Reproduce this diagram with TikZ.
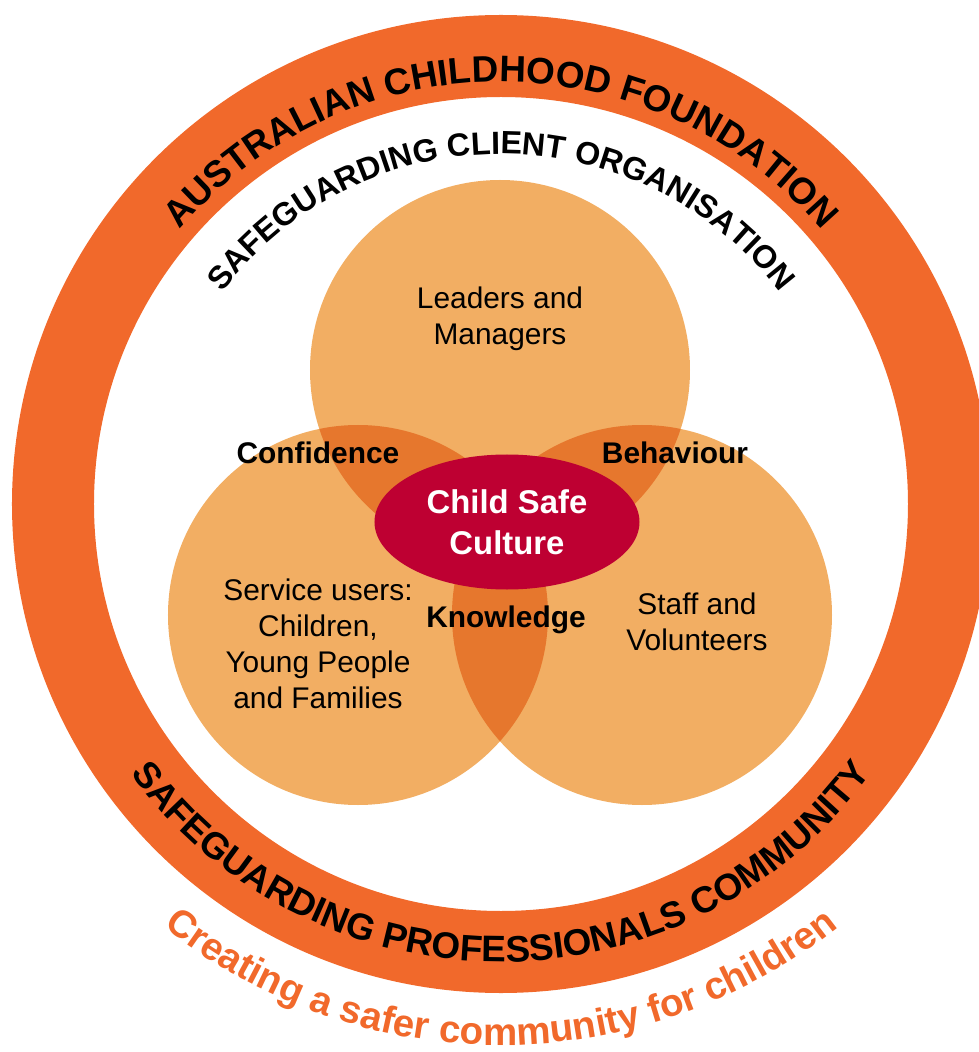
\documentclass[tikz,border=0pt]{standalone}
\usepackage{fontspec}
\setsansfont{Liberation Sans}
\usetikzlibrary{shapes.geometric, decorations.text}
\definecolor{cring}{HTML}{F1692B}
\definecolor{cpeach}{HTML}{F2AE63}
\definecolor{cdeep}{HTML}{E6772D}
\definecolor{ccrimson}{HTML}{BE0032}
\newcommand\ringfont{\sffamily\bfseries\fontsize{21}{25}\selectfont}
\newcommand\orgfont{\sffamily\bfseries\fontsize{18.3}{22}\selectfont}
\newcommand\mottofont{\sffamily\bfseries\fontsize{21.9}{26}\selectfont}
\tikzset{
  every picture/.style={font=\sffamily\fontsize{17}{20.4}\selectfont},
  group/.style={align=center, inner sep=0pt},
  tag/.style={font=\sffamily\bfseries\fontsize{17}{20.4}\selectfont, inner sep=0pt},
  core/.style={ellipse, fill=ccrimson, text=white, align=center, minimum width=53mm, minimum height=27mm,
    font=\sffamily\bfseries\fontsize{18.7}{23.6}\selectfont},
  arctext/.style={decorate, decoration={text along path, text align=center, text={#1}}},
}

\begin{document}
\begin{tikzpicture}[x=0.2mm, y=0.2mm]
  \useasboundingbox (-501,504) rectangle (478,-548);
  % outer ring
  \fill[cring, even odd rule] (0,0) circle[radius=489] (0,0) circle[radius=407];
  % three circles and their overlaps
  \fill[cpeach] (-1,134) circle[radius=190];
  \fill[cpeach] (-143,-111) circle[radius=190];
  \fill[cpeach] (141,-111) circle[radius=190];
  \begin{scope}
    \clip (-1,134) circle[radius=190];
    \fill[cdeep] (-143,-111) circle[radius=190];
    \fill[cdeep] (141,-111) circle[radius=190];
  \end{scope}
  \begin{scope}
    \clip (-143,-111) circle[radius=190];
    \fill[cdeep] (141,-111) circle[radius=190];
  \end{scope}
  \node[core] (csc) at (6,-18) {Child Safe\\Culture};
  \node[group] (lead) at (-1,185) {Leaders and\\Managers};
  \node[group] (users) at (-183,-140) {Service users:\\Children,\\Young People\\and Families};
  \node[group] (staff) at (196,-118) {Staff and\\Volunteers};
  \node[tag] (conf) at (-183,51) {Confidence};
  \node[tag] (behav) at (174,51) {Behaviour};
  \node[tag] (know) at (5,-116) {Knowledge};
  % curved titles
  \path[arctext={|\ringfont|AUSTRALIAN CHILDHOOD FOUNDATION}] (160:422) arc[start angle=160, end angle=20, radius=422];
  \path[arctext={|\orgfont|SAFEGUARDING CLIENT ORGANISATION}] (160:350) arc[start angle=160, end angle=20, radius=350];
  \path[arctext={|\ringfont|SAFEGUARDING PROFESSIONALS COMMUNITY}] (200:458) arc[start angle=200, end angle=340, radius=458];
  \path[arctext={|\mottofont\color{cring}|Creating a safer community for children}] (200:541) arc[start angle=200, end angle=340, radius=541];
\end{tikzpicture}
\end{document}
